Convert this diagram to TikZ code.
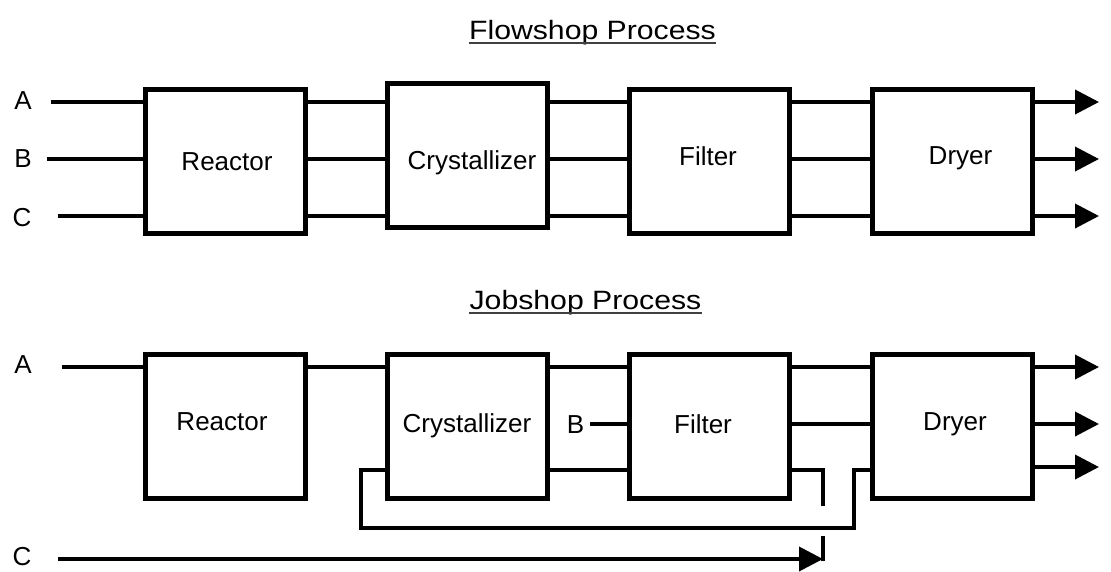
\documentclass[tikz,border=0pt]{standalone}
\usepackage{fontspec}
\usepackage{graphicx}
\setmainfont{Liberation Sans}
\usetikzlibrary{arrows.meta}
\begin{document}
\begin{tikzpicture}[x=1pt,y=-1pt,
 box/.style={draw=black, line width=5pt, minimum width=160pt, minimum height=144pt, inner sep=0pt, outer sep=0pt},
 lbl/.style={inner sep=0pt, anchor=base, text=black, font=\fontsize{26}{30}\selectfont},
 ttl/.style={inner sep=0pt, anchor=base, text=black, font=\fontsize{26.5}{30}\selectfont},
 uline/.style={line width=2.2pt, black!75},
 flow/.style={line width=3.8pt},
 rec/.style={line width=3.2pt},
 outarrow/.style={line width=3.8pt, -{Triangle[length=24pt,width=24pt]}},
]
\useasboundingbox (0,0) rectangle (1111,571);

% ---------- titles ----------
\node[ttl] (ft) at (592.5,39) {\scalebox{1.14}[1]{Flowshop Process}};
\draw[uline] ([yshift=-4pt]ft.base west) -- ([yshift=-4pt]ft.base east);
\node[ttl] (jt) at (585.5,309) {\scalebox{1.14}[1]{Jobshop Process}};
\draw[uline] ([yshift=-4pt]jt.base west) -- ([yshift=-4pt]jt.base east);

% ---------- flowshop ----------
\node[box] (fR) at (225.5,161.5) {};
\node[box] (fC) at (467.5,155) {};
\node[box] (fF) at (709.75,161.5) {};
\node[box] (fD) at (952,161.5) {};
\node[lbl] (fRt) at (227,170) {Reactor};
\node[lbl] (fCt) at (472,169) {Crystallizer};
\node[lbl] (fFt) at (708,165) {Filter};
\node[lbl] (fDt) at (960.5,164) {Dryer};

\node[lbl] (fAl) at (23,109) {A};
\node[lbl] (fBl) at (23,167) {B};
\node[lbl] (fCl) at (22,226) {C};

\coordinate (fA) at (51,102);
\coordinate (fB) at (47,159);
\coordinate (fCc) at (58,216);
\coordinate (fo1) at (1099,102);
\coordinate (fo2) at (1099,159);
\coordinate (fo3) at (1099,216);

\foreach \r in {fA,fB,fCc}{
  \draw[flow] (\r) -- (\r -| fR.west);
  \draw[flow] (fR.east |- \r) -- (fC.west |- \r);
  \draw[flow] (fC.east |- \r) -- (fF.west |- \r);
  \draw[flow] (fF.east |- \r) -- (fD.west |- \r);
}
\draw[outarrow] (fD.east |- fo1) -- (fo1);
\draw[outarrow] (fD.east |- fo2) -- (fo2);
\draw[outarrow] (fD.east |- fo3) -- (fo3);

% ---------- jobshop ----------
\node[box] (jR) at (225.5,426) {};
\node[box] (jC) at (467.5,426) {};
\node[box] (jF) at (709.75,426) {};
\node[box] (jD) at (952,426) {};
\node[lbl] (jRt) at (222,430) {Reactor};
\node[lbl] (jCt) at (467,432) {Crystallizer};
\node[lbl] (jFt) at (703,433) {Filter};
\node[lbl] (jDt) at (955,430) {Dryer};

\node[lbl] (jAl) at (23,373) {A};
\node[lbl] (jCl) at (22,565) {C};
\node[lbl] (jBl) at (575.5,433) {B};

\coordinate (jA) at (62,367);
\coordinate (jB) at (590,424);
\coordinate (jL) at (0,470);
\coordinate (r1) at (361,528);
\coordinate (r2) at (854,528);
\coordinate (fx1) at (823,470);
\coordinate (fx2) at (823,506);
\coordinate (fx3) at (823,536);
\coordinate (jCin) at (58,559);
\coordinate (jCt) at (823,559);
\coordinate (jo1) at (1099,367);
\coordinate (jo2) at (1099,424);
\coordinate (jo3) at (1099,467);

\draw[flow] (jA) -- (jA -| jR.west);
\draw[flow] (jR.east |- jA) -- (jC.west |- jA);
\draw[flow] (jC.east |- jA) -- (jF.west |- jA);
\draw[flow] (jF.east |- jA) -- (jD.west |- jA);

\draw[flow] (jB) -- (jB -| jF.west);
\draw[flow] (jF.east |- jB) -- (jD.west |- jB);

\draw[rec] (jC.east |- jL) -- (jF.west |- jL);
\draw[rec] (jC.west |- jL) -| (r1) -- (r2) |- (jD.west |- jL);
\draw[rec] (jF.east |- jL) -- (fx1) -- (fx2);

\draw[outarrow] (jCin) -- (jCt);
\draw[rec] (fx3) -- ([yshift=-1.5pt]jCt);

\draw[outarrow] (jD.east |- jo1) -- (jo1);
\draw[outarrow] (jD.east |- jo2) -- (jo2);
\draw[outarrow] (jD.east |- jo3) -- (jo3);
\end{tikzpicture}
\end{document}
